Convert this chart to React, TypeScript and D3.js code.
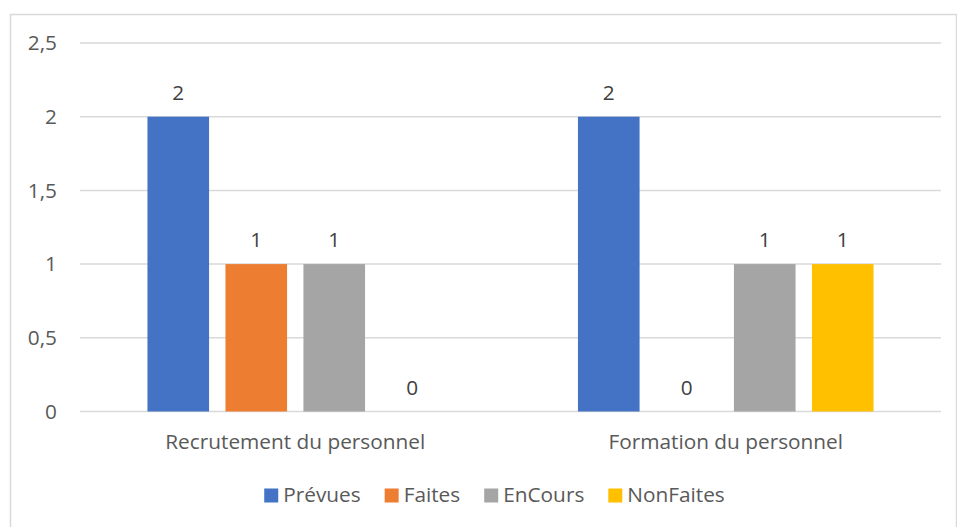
import React, { useEffect, useRef } from 'react'
import * as d3 from 'd3'

const categories = ['Recrutement du personnel', 'Formation du personnel']
const seriesNames = ['Prévues', 'Faites', 'EnCours', 'NonFaites']
const prevues = [2, 2]
const faites = [1, 0]
const enCours = [1, 1]
const nonFaites = [0, 1]
const yTicks = [0, 0.5, 1, 1.5, 2, 2.5]
const colors = ['#4472C4', '#ED7D31', '#A5A5A5', '#FFC000']

const App = () => {
  const ref = useRef<SVGSVGElement>(null)

  useEffect(() => {
    const font = '"Open Sans", "Noto Sans", sans-serif'
    const fontSize = '20.8px'
    const textColor = '#595959'
    const left = 80
    const right = 941
    const top = 43
    const bottom = 411.5

    const svg = d3.select(ref.current)
    svg.selectAll('*').remove()

    // chart frame
    svg
      .append('rect')
      .attr('x', 10.5)
      .attr('y', 14.5)
      .attr('width', 946)
      .attr('height', 520)
      .attr('fill', 'white')
      .attr('stroke', '#d9d9d9')
      .attr('stroke-width', 1.5)

    const y = d3.scaleLinear().domain([0, 2.5]).range([bottom, top])
    const x0 = d3.scaleBand<string>().domain(categories).range([left, right]).padding(0)
    const x1 = d3
      .scaleBand<string>()
      .domain(seriesNames)
      .range([0, x0.bandwidth()])
      .paddingInner(0.21)
      .paddingOuter(0.865)

    const allSeries = [prevues, faites, enCours, nonFaites]

    // gridlines
    svg
      .append('g')
      .selectAll('line')
      .data(yTicks)
      .enter()
      .append('line')
      .attr('x1', left)
      .attr('x2', right)
      .attr('y1', (d) => y(d))
      .attr('y2', (d) => y(d))
      .attr('stroke', '#d9d9d9')
      .attr('stroke-width', 1.5)

    // y tick labels
    svg
      .append('g')
      .selectAll('text')
      .data(yTicks)
      .enter()
      .append('text')
      .attr('x', 57)
      .attr('y', (d) => y(d))
      .attr('dy', '0.35em')
      .attr('text-anchor', 'end')
      .attr('fill', textColor)
      .style('font-family', font)
      .style('font-size', fontSize)
      .text((d) => String(d).replace('.', ','))

    // bars + labels
    const groups = svg
      .append('g')
      .selectAll('g')
      .data(categories)
      .enter()
      .append('g')
      .attr('transform', (d) => `translate(${x0(d)},0)`)

    groups.each(function (cat, ci) {
      const g = d3.select(this)
      const rows = seriesNames.map((s, si) => ({ s, si, v: allSeries[si][ci] }))
      g.selectAll('rect')
        .data(rows)
        .enter()
        .append('rect')
        .attr('x', (d) => x1(d.s) as number)
        .attr('width', x1.bandwidth())
        .attr('y', (d) => y(d.v))
        .attr('height', (d) => y(0) - y(d.v))
        .attr('fill', (d) => colors[d.si])
      g.selectAll('text')
        .data(rows)
        .enter()
        .append('text')
        .attr('x', (d) => (x1(d.s) as number) + x1.bandwidth() / 2)
        .attr('y', (d) => y(d.v) - 24)
        .attr('dy', '0.35em')
        .attr('text-anchor', 'middle')
        .attr('fill', '#404040')
        .style('font-family', font)
        .style('font-size', fontSize)
        .text((d) => String(d.v))
    })

    // category labels
    svg
      .append('g')
      .selectAll('text')
      .data(categories)
      .enter()
      .append('text')
      .attr('x', (d) => (x0(d) as number) + x0.bandwidth() / 2)
      .attr('y', 442)
      .attr('dy', '0.35em')
      .attr('text-anchor', 'middle')
      .attr('fill', textColor)
      .style('font-family', font)
      .style('font-size', fontSize)
      .text((d) => d)

    // legend
    const legend = svg.append('g')
    const items = legend
      .selectAll('g')
      .data(seriesNames)
      .enter()
      .append('g')
    items
      .append('rect')
      .attr('width', 14)
      .attr('height', 14)
      .attr('y', 488.5)
      .attr('fill', (d, i) => colors[i])
    items
      .append('text')
      .attr('x', 19)
      .attr('y', 495)
      .attr('dy', '0.35em')
      .attr('fill', textColor)
      .style('font-family', font)
      .style('font-size', fontSize)
      .text((d) => d)
    let cursor = 0
    const offsets: number[] = []
    items.each(function () {
      const t = d3.select(this).select('text').node() as SVGTextElement
      offsets.push(cursor)
      cursor += 19 + t.getComputedTextLength() + 24
    })
    const total = cursor - 24
    const start = 494.5 - total / 2
    items.attr('transform', (d, i) => `translate(${start + offsets[i]},0)`)
  }, [])

  return (
    <svg
      ref={ref}
      width={957}
      height={527}
      style={{ position: 'absolute', left: 0, top: 0, display: 'block' }}
    />
  )
}

export default App
